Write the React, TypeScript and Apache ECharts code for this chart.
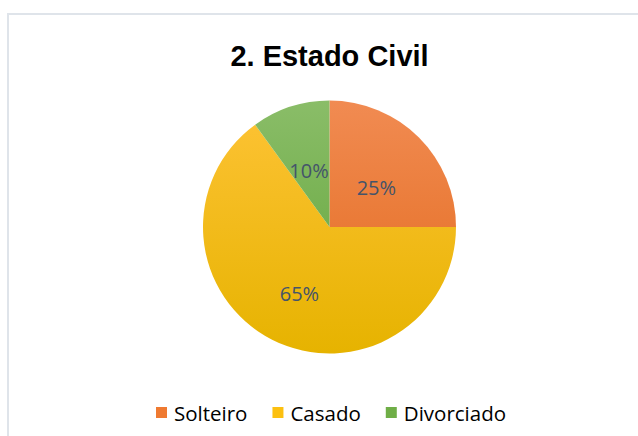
import React, { useEffect, useRef } from "react";
import * as echarts from "echarts";

const titleText = "2. Estado Civil";
const categories = ["Solteiro", "Casado", "Divorciado"];
const values = [25, 65, 10];
const topColors = ["#f18b52", "#fec336", "#8abd68"];
const bottomColors = ["#e2691b", "#e6b300", "#5fa336"];
const legendColors = ["#ef7a31", "#fcc010", "#6fae47"];

export default function App() {
  const ref = useRef<HTMLDivElement>(null);
  useEffect(() => {
    const chart = echarts.init(ref.current!, undefined, { renderer: "svg" });
    const cx = 329.5;
    const cy = 227;
    const r = 126.5;
    chart.setOption({
      animation: false,
      backgroundColor: "#ffffff",
      graphic: [
        {
          type: "rect",
          shape: { x: 8, y: 14, width: 640, height: 440 },
          style: { fill: "none", stroke: "#dfe4ea", lineWidth: 2 },
          silent: true,
        },
        {
          type: "text",
          x: 329.5,
          y: 56,
          style: {
            text: titleText,
            textAlign: "center",
            textVerticalAlign: "middle",
            fontFamily: "Liberation Sans",
            fontWeight: "bold",
            fontSize: 29,
            fill: "#000000",
          },
          silent: true,
        },
      ],
      legend: {
        data: categories.map((name, i) => ({
          name,
          itemStyle: { color: legendColors[i] },
        })),
        top: 397,
        left: 151,
        icon: "rect",
        itemWidth: 11,
        itemHeight: 11,
        itemGap: 25,
        textStyle: { fontFamily: "Open Sans", fontSize: 20.5, color: "#000000", padding: [0, 0, 0, 2] },
      },
      series: [
        {
          type: "pie",
          center: [cx, cy],
          radius: [0, r],
          startAngle: 90,
          clockwise: true,
          avoidLabelOverlap: false,
          label: {
            show: true,
            position: "inside",
            formatter: "{d}%",
            fontFamily: "Open Sans",
            fontSize: 20,
            color: "#44546a",
            offset: [0, 7],
          },
          labelLine: { show: false },
          itemStyle: { borderWidth: 0 },
          emphasis: { disabled: true },
          data: categories.map((name, i) => ({
            name,
            value: values[i],
            itemStyle: {
              color: new echarts.graphic.LinearGradient(
                0, cy - r, 0, cy + r,
                [
                  { offset: 0, color: topColors[i] },
                  { offset: 1, color: bottomColors[i] },
                ],
                true
              ),
            },
          })),
        },
      ],
    });
    return () => chart.dispose();
  }, []);
  return (
    <div
      ref={ref}
      style={{ position: "fixed", left: 0, top: 0, width: 638, height: 436 }}
    />
  );
}
